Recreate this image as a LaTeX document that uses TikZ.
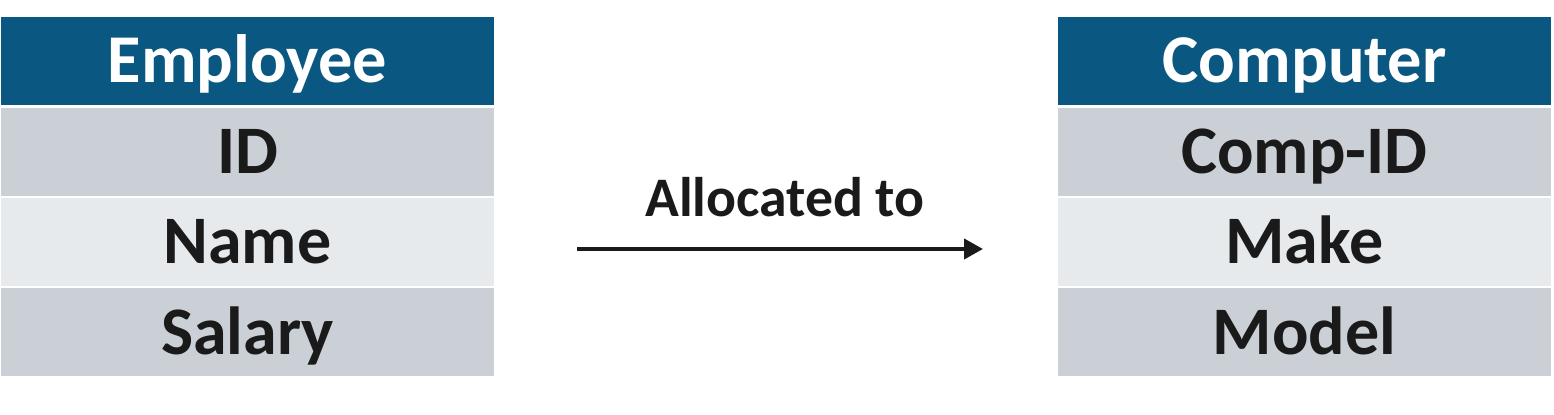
\documentclass[tikz,border=0pt]{standalone}
\usepackage{fontspec}
\setmainfont{Carlito}
\usetikzlibrary{arrows.meta,positioning}
\definecolor{head}{HTML}{0A5881}
\definecolor{rowdark}{HTML}{CBD0D7}
\definecolor{rowlight}{HTML}{E6EAED}
\definecolor{ink}{HTML}{1A1A1A}
\tikzset{
  every picture/.style={line join=round, >=Stealth},
  cell/.style={minimum width=246.5pt, minimum height=44pt, inner sep=0pt, text height=22pt, text depth=0pt, font=\fontsize{34}{36}\selectfont\bfseries, text=ink},
  headcell/.style={cell, fill=head, text=white, font=\fontsize{34.2}{38}\selectfont\bfseries},
  darkcell/.style={cell, fill=rowdark},
  lightcell/.style={cell, fill=rowlight},
}
\begin{document}
\begin{tikzpicture}[x=0.5pt,y=-0.5pt]
\useasboundingbox (0,0) rectangle (1554,415);
% left entity
\node[headcell] (emp) at (247.5,61){Employee};
\node[darkcell] (id) at (247.5,152){ID};
\node[lightcell] (name) at (247.5,242){Name};
\node[darkcell] (sal) at (247.5,332.5){Salary};
% right entity
\node[headcell] (comp) at (1304.5,61){Computer};
\node[darkcell] (cid) at (1304.5,152){Comp-ID};
\node[lightcell] (make) at (1304.5,242){Make};
\node[darkcell] (model) at (1304.5,332.5){Model};
% relation
\coordinate (from) at (577,249);
\coordinate (to) at (983,249);
\draw[-{Triangle[length=9.5pt,width=10pt]},line width=2pt,ink] (from) -- (to);
\node[font=\fontsize{27.9}{30}\selectfont\bfseries,text=ink] (rel) at (785,197){Allocated to};
\end{tikzpicture}
\end{document}
